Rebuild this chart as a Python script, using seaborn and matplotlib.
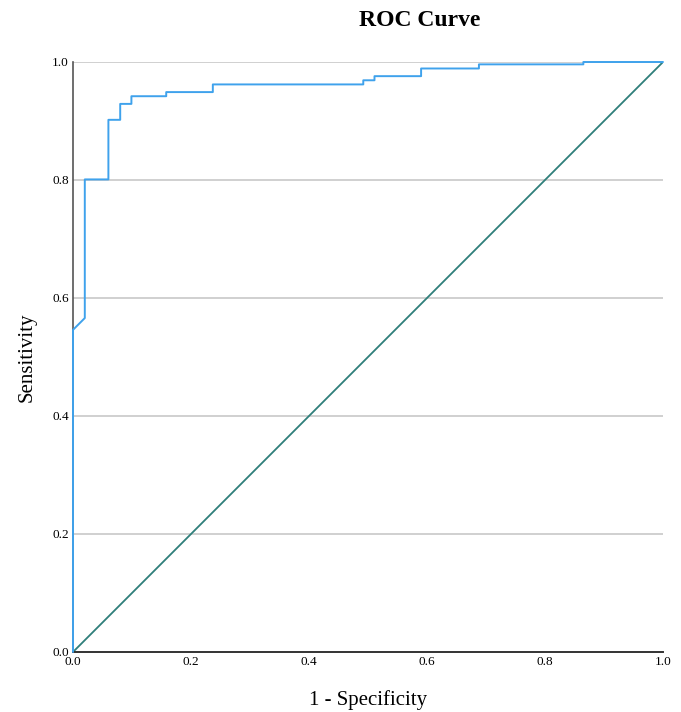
import matplotlib
matplotlib.use("Agg")
import matplotlib.pyplot as plt
import seaborn as sns
import pandas as pd

# ROC curve points (1 - specificity, sensitivity)
fpr = [0.0, 0.0, 0.020, 0.020, 0.060, 0.060, 0.080, 0.080, 0.099, 0.099,
       0.158, 0.158, 0.237, 0.237, 0.492, 0.492, 0.511, 0.511, 0.590, 0.590,
       0.688, 0.688, 0.865, 0.865, 1.0]
tpr = [0.0, 0.546, 0.566, 0.801, 0.801, 0.902, 0.902, 0.929, 0.929, 0.942,
       0.942, 0.949, 0.949, 0.962, 0.962, 0.969, 0.969, 0.976, 0.976, 0.989,
       0.989, 0.996, 0.996, 1.0, 1.0]
ref_x = [0.0, 1.0]
ref_y = [0.0, 1.0]
ticks = [0.0, 0.2, 0.4, 0.6, 0.8, 1.0]

sns.set_style("white", {"text.color": "black", "axes.labelcolor": "black",
                        "xtick.color": "black", "ytick.color": "black"})
plt.rcParams['font.family'] = ['Liberation Serif', 'DejaVu Serif']

fig = plt.figure(figsize=(6.81, 7.12), dpi=100)
ax = fig.add_axes([73 / 681, 60 / 712, 590 / 681, 590 / 712])

roc = pd.DataFrame({"fpr": fpr, "tpr": tpr})
ref = pd.DataFrame({"x": ref_x, "y": ref_y})

for t in ticks[1:]:
    ax.axhline(t, color="#c8c8c8", lw=1.2, zorder=0)

sns.lineplot(data=ref, x="x", y="y", ax=ax, color="#2f7f7a", lw=1.3,
             sort=False, estimator=None)
sns.lineplot(data=roc, x="fpr", y="tpr", ax=ax, color="#3fa2ec", lw=1.4,
             sort=False, estimator=None, zorder=5, clip_on=False)

ax.set_xlim(0, 1)
ax.set_ylim(0, 1)
ax.set_xticks(ticks)
ax.set_yticks(ticks)
ax.set_xticklabels([f"{t:.1f}" for t in ticks], fontsize=9.5)
ax.set_yticklabels([f"{t:.1f}" for t in ticks], fontsize=9.5)
ax.tick_params(axis="both", length=0, pad=3)

for side in ["top", "right"]:
    ax.spines[side].set_visible(False)
ax.spines["left"].set_color("#555555")
ax.spines["bottom"].set_color("#333333")
ax.spines["left"].set_linewidth(1.2)
ax.spines["bottom"].set_linewidth(1.4)

ax.set_xlabel("1 - Specificity", fontsize=15, labelpad=16)
ax.set_ylabel("Sensitivity", fontsize=15, labelpad=11)
fig.text(420 / 681, 1 - 20 / 712, "ROC Curve", fontsize=17, fontweight="bold",
         ha="center", va="center", color="black")

fig.savefig("out.png", dpi=100)
